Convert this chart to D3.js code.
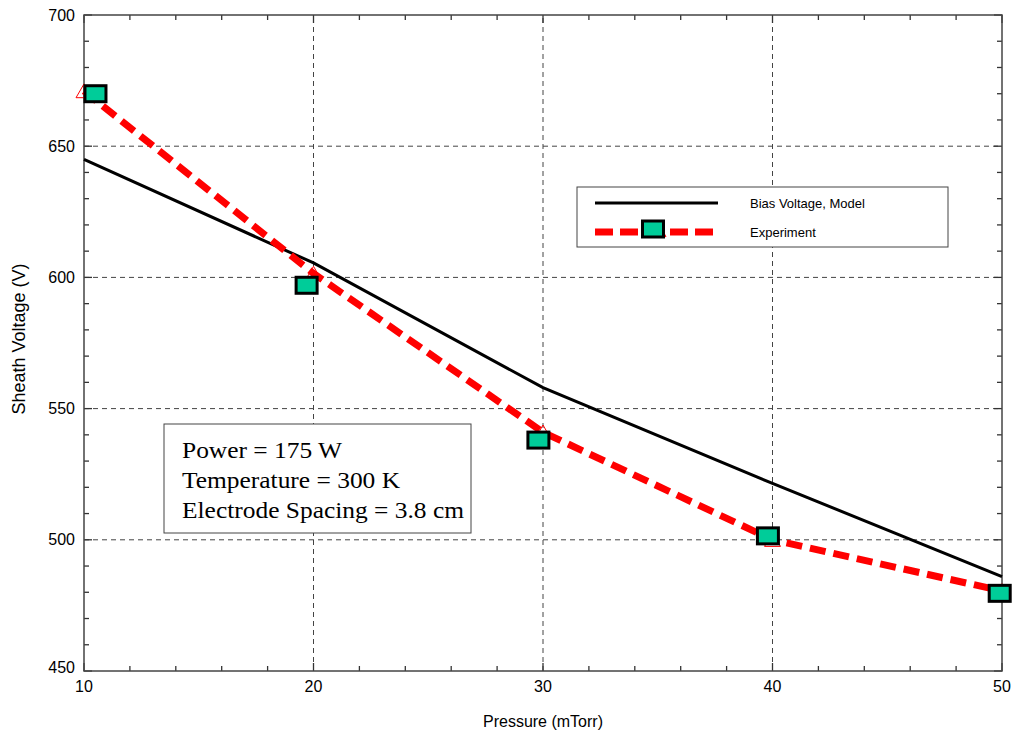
<!DOCTYPE html>
<html>
<head>
<meta charset="utf-8">
<script src="https://cdn.jsdelivr.net/npm/d3@7"></script>
<style>
  body { margin: 0; background: #fff; }
  svg { display: block; }
  .tick-label { font-family: "Liberation Sans", Arial, sans-serif; font-size: 16px; fill: #000; }
  .axis-title { font-family: "Liberation Sans", Arial, sans-serif; font-size: 16px; fill: #000; }
  .legend-text { font-family: "Liberation Sans", Arial, sans-serif; font-size: 13px; fill: #000; }
  .note-text { font-family: "Liberation Serif", "Times New Roman", serif; font-size: 24px; fill: #000; }
</style>
</head>
<body>
<div id="chart"></div>
<script>
// Data
const pressure = [10, 20, 30, 40, 50];
const modelVoltage = [645, 605.5, 558, 521.5, 486];
const expVoltage = [671, 601.5, 541, 500, 480.5];
const squarePressure = [10.5, 19.7, 29.8, 39.8, 49.9];
const squareVoltage = [670, 597, 538, 501.5, 479.6];

const xTicks = [10, 20, 30, 40, 50];
const yTicks = [450, 500, 550, 600, 650, 700];
const legendLabels = ['Bias Voltage, Model', 'Experiment'];
const noteLines = ['Power = 175 W', 'Temperature = 300 K', 'Electrode Spacing = 3.8 cm'];

const width = 1013, height = 740;
const margin = { left: 84, top: 15, right: 11, bottom: 69 };
const plotW = width - margin.left - margin.right;
const plotH = height - margin.top - margin.bottom;

const svg = d3.select('#chart').append('svg')
    .attr('width', width)
    .attr('height', height);

const x = d3.scaleLinear().domain([10, 50]).range([margin.left, margin.left + plotW]);
const y = d3.scaleLinear().domain([450, 700]).range([margin.top + plotH, margin.top]);

const g = svg.append('g');

// Grid lines (major only, dashed)
g.selectAll('.vgrid')
    .data(xTicks.slice(1, -1))
    .enter().append('line')
    .attr('x1', d => x(d)).attr('x2', d => x(d))
    .attr('y1', y(450)).attr('y2', y(700))
    .attr('stroke', '#444').attr('stroke-width', 1)
    .attr('stroke-dasharray', '5,4');

g.selectAll('.hgrid')
    .data(yTicks.slice(1, -1))
    .enter().append('line')
    .attr('x1', x(10)).attr('x2', x(50))
    .attr('y1', d => y(d)).attr('y2', d => y(d))
    .attr('stroke', '#444').attr('stroke-width', 1)
    .attr('stroke-dasharray', '5,4');

// Minor ticks, inward, on all four sides
const xMinor = d3.range(10, 50.01, 2);
const yMinor = d3.range(450, 700.01, 10);
const tickColor = '#333';

xMinor.forEach(v => {
    const len = (v % 10 === 0) ? 8 : 5;
    g.append('line').attr('x1', x(v)).attr('x2', x(v))
        .attr('y1', y(450)).attr('y2', y(450) - len)
        .attr('stroke', tickColor).attr('stroke-width', 1.3);
    g.append('line').attr('x1', x(v)).attr('x2', x(v))
        .attr('y1', y(700)).attr('y2', y(700) + len)
        .attr('stroke', tickColor).attr('stroke-width', 1.3);
});
yMinor.forEach(v => {
    const len = (v % 50 === 0) ? 8 : 5;
    g.append('line').attr('x1', x(10)).attr('x2', x(10) + len)
        .attr('y1', y(v)).attr('y2', y(v))
        .attr('stroke', tickColor).attr('stroke-width', 1.3);
    g.append('line').attr('x1', x(50)).attr('x2', x(50) - len)
        .attr('y1', y(v)).attr('y2', y(v))
        .attr('stroke', tickColor).attr('stroke-width', 1.3);
});

// Frame
g.append('rect')
    .attr('x', x(10)).attr('y', y(700))
    .attr('width', x(50) - x(10)).attr('height', y(450) - y(700))
    .attr('fill', 'none').attr('stroke', '#444').attr('stroke-width', 1.5);

// Tick labels
g.selectAll('.ylab')
    .data(yTicks)
    .enter().append('text')
    .attr('class', 'tick-label')
    .attr('x', x(10) - 9)
    .attr('y', d => y(d))
    .attr('dy', d => d === 450 ? '0.15em' : '0.35em')
    .attr('text-anchor', 'end')
    .text(d => d);

g.selectAll('.xlab')
    .data(xTicks)
    .enter().append('text')
    .attr('class', 'tick-label')
    .attr('x', d => x(d))
    .attr('y', y(450) + 21)
    .attr('text-anchor', 'middle')
    .text(d => d);

// Axis titles
svg.append('text')
    .attr('class', 'axis-title')
    .attr('x', (x(10) + x(50)) / 2)
    .attr('y', 727)
    .attr('text-anchor', 'middle')
    .text('Pressure (mTorr)');

svg.append('text')
    .attr('class', 'axis-title')
    .style('font-size', '18px')
    .attr('transform', `translate(25, 339) rotate(-90)`)
    .attr('text-anchor', 'middle')
    .text('Sheath Voltage (V)');

// Annotation box
const note = svg.append('g');
note.append('rect')
    .attr('x', 164).attr('y', 424)
    .attr('width', 307).attr('height', 109)
    .attr('fill', '#fff').attr('stroke', '#444').attr('stroke-width', 1);
note.selectAll('text')
    .data(noteLines)
    .enter().append('text')
    .attr('class', 'note-text')
    .attr('transform', (d, i) => `translate(182, ${458 + i * 30}) scale(1.06, 1)`)
    .text(d => d);

// Model line
const line = d3.line().x(d => x(d[0])).y(d => y(d[1]));

svg.append('path')
    .datum(d3.zip(pressure, modelVoltage))
    .attr('d', line)
    .attr('fill', 'none')
    .attr('stroke', '#000')
    .attr('stroke-width', 3);

// Experiment line
svg.append('path')
    .datum(d3.zip(pressure, expVoltage))
    .attr('d', line)
    .attr('fill', 'none')
    .attr('stroke', '#ff0000')
    .attr('stroke-width', 7)
    .attr('stroke-dasharray', '16,8');

const triangle = d3.symbol().type(d3.symbolTriangle).size(110);

svg.selectAll('.tri')
    .data(d3.zip(pressure, expVoltage))
    .enter().append('path')
    .attr('d', triangle)
    .attr('transform', d => `translate(${x(d[0])},${y(d[1]) + 2})`)
    .attr('fill', 'none')
    .attr('stroke', '#ff0000')
    .attr('stroke-width', 1);

// Squares
const sqW = 21, sqH = 16;
svg.selectAll('.sq')
    .data(d3.zip(squarePressure, squareVoltage))
    .enter().append('rect')
    .attr('x', d => x(d[0]) - sqW / 2)
    .attr('y', d => y(d[1]) - sqH / 2)
    .attr('width', sqW).attr('height', sqH)
    .attr('fill', '#00cc99')
    .attr('stroke', '#000')
    .attr('stroke-width', 3);

// Legend
const legend = svg.append('g');
legend.append('rect')
    .attr('x', 577).attr('y', 187)
    .attr('width', 371).attr('height', 60)
    .attr('fill', '#fff').attr('stroke', '#444').attr('stroke-width', 1);

legend.append('line')
    .attr('x1', 595).attr('x2', 718).attr('y1', 203).attr('y2', 203)
    .attr('stroke', '#000').attr('stroke-width', 3);
legend.append('line')
    .attr('x1', 595).attr('x2', 718).attr('y1', 232).attr('y2', 232)
    .attr('stroke', '#ff0000').attr('stroke-width', 7)
    .attr('stroke-dasharray', '18,7');
legend.append('path')
    .attr('d', triangle)
    .attr('transform', 'translate(658,232)')
    .attr('fill', 'none').attr('stroke', '#ff0000').attr('stroke-width', 1);
legend.append('rect')
    .attr('x', 653 - sqW / 2).attr('y', 229 - sqH / 2)
    .attr('width', sqW).attr('height', sqH)
    .attr('fill', '#00cc99').attr('stroke', '#000').attr('stroke-width', 3);

legend.selectAll('.ltext')
    .data(legendLabels)
    .enter().append('text')
    .attr('class', 'legend-text')
    .attr('x', 750)
    .attr('y', (d, i) => 203 + i * 29)
    .attr('dy', '0.35em')
    .text(d => d);
</script>
</body>
</html>
